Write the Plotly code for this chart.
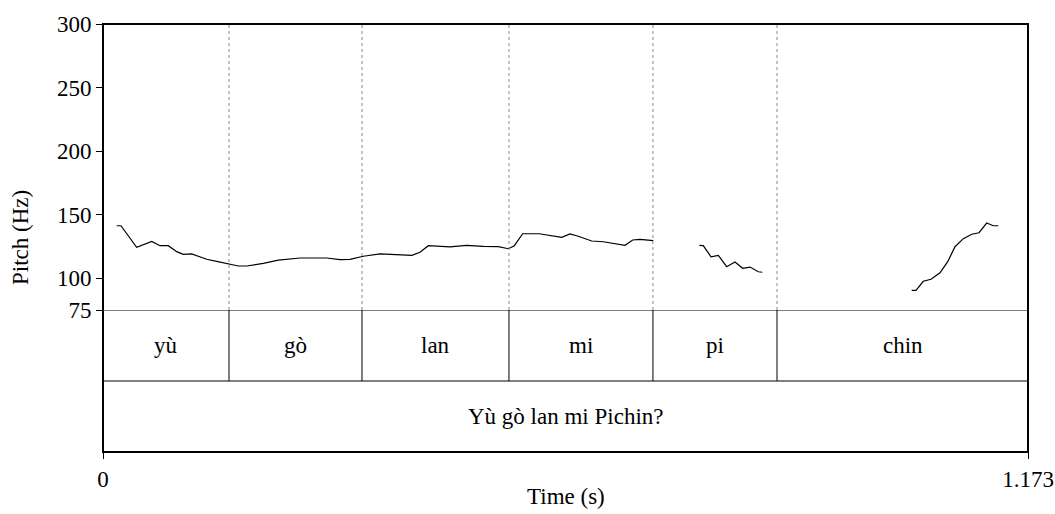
import plotly.graph_objects as go

# ---- data ----
seg1_t = [0.0174, 0.0228, 0.0427, 0.0618, 0.0723, 0.0828, 0.0935, 0.1018, 0.1125, 0.1315,
          0.1442, 0.1589, 0.1716, 0.1822, 0.2033, 0.2223, 0.2498, 0.2837, 0.3005, 0.3132,
          0.3301, 0.3513, 0.3724, 0.3915, 0.4020, 0.4125, 0.4400, 0.4612, 0.4823, 0.5013,
          0.5140, 0.5216, 0.5322, 0.5533, 0.5817, 0.5922, 0.6027, 0.6197, 0.6344, 0.6620,
          0.6717, 0.6810, 0.6978]
seg1_f = [141.3, 141.3, 124.3, 129.0, 125.6, 125.6, 120.9, 118.8, 119.1, 114.9,
          113.3, 111.2, 109.6, 109.6, 111.7, 114.3, 115.9, 115.9, 114.6, 114.9,
          117.3, 119.1, 118.8, 118.0, 120.4, 125.6, 124.6, 125.9, 125.1, 124.8,
          123.2, 125.6, 135.0, 135.0, 132.2, 134.8, 133.0, 129.3, 128.7, 125.9,
          130.1, 130.6, 129.5]
seg2_t = [0.7562, 0.7612, 0.7710, 0.7803, 0.7909, 0.8014, 0.8112, 0.8205, 0.8310, 0.8361]
seg2_f = [125.9, 125.6, 116.9, 118.0, 109.1, 112.8, 107.8, 108.8, 105.1, 104.7]
seg3_t = [1.0255, 1.0310, 1.0402, 1.0500, 1.0614, 1.0712, 1.0804, 1.0910, 1.1016, 1.1109,
          1.1206, 1.1290, 1.1353]
seg3_f = [90.5, 90.5, 97.6, 99.2, 104.3, 113.0, 124.8, 131.1, 134.6, 135.8,
          143.4, 141.3, 141.3]

boundaries = [0.0, 0.1598, 0.3284, 0.5148, 0.6974, 0.8547, 1.173]
syllables = ["yù", "gò", "lan", "mi", "pi", "chin"]
sentence = "Yù gò lan mi Pichin?"
pitch_ticks = [75, 100, 150, 200, 250, 300]
t_max = 1.173

FONT = "Liberation Serif"
FS = 23

t_all = seg1_t + [None] + seg2_t + [None] + seg3_t
f_all = seg1_f + [None] + seg2_f + [None] + seg3_f

fig = go.Figure()
fig.add_trace(go.Scatter(x=t_all, y=f_all, mode="lines", connectgaps=False,
                         line=dict(color="black", width=1.2), yaxis="y",
                         showlegend=False, hoverinfo="skip"))

pitch_dom0 = 142 / 428
shapes = []
# dotted boundaries in pitch area
for b in boundaries[1:-1]:
    shapes.append(dict(type="line", xref="x", yref="y", x0=b, x1=b, y0=75, y1=300,
                       line=dict(color="#888888", width=1, dash="dot")))
    shapes.append(dict(type="line", xref="x", yref="y2", x0=b, x1=b, y0=1, y1=2,
                       line=dict(color="black", width=1)))
# tier lines
for yv in [1, 2]:
    shapes.append(dict(type="line", xref="paper", yref="y2", x0=0, x1=1, y0=yv, y1=yv,
                       line=dict(color="black", width=1)))
# frame
shapes.append(dict(type="rect", xref="paper", yref="paper", x0=0, x1=1, y0=0, y1=1,
                   line=dict(color="black", width=2)))

annotations = []
for i, s in enumerate(syllables):
    annotations.append(dict(x=(boundaries[i] + boundaries[i + 1]) / 2, y=1.5, xref="x", yref="y2",
                            text=s, showarrow=False, font=dict(family=FONT, size=FS, color="black")))
annotations.append(dict(x=t_max / 2, y=0.5, xref="x", yref="y2", text=sentence, showarrow=False,
                        font=dict(family=FONT, size=FS, color="black")))
annotations.append(dict(x=0.5, y=0, xref="paper", yref="paper", yshift=-44, text="Time (s)",
                        showarrow=False, yanchor="middle",
                        font=dict(family=FONT, size=FS, color="black")))
annotations.append(dict(x=0, y=0.5, xref="paper", yref="paper", xshift=-83, text="Pitch (Hz)",
                        showarrow=False, textangle=-90, xanchor="center",
                        font=dict(family=FONT, size=FS, color="black")))

fig.update_layout(
    width=1055, height=514,
    margin=dict(l=103, r=27, t=24, b=62, autoexpand=False),
    paper_bgcolor="white", plot_bgcolor="white",
    font=dict(family=FONT, size=FS, color="black"),
    xaxis=dict(range=[0, t_max], tickvals=[0, t_max], ticktext=["0", "1.173"],
               ticks="outside", ticklen=6, tickwidth=1, tickcolor="black",
               showgrid=False, zeroline=False, showline=False, anchor="y2",
               automargin=False, tickfont=dict(family=FONT, size=FS)),
    yaxis=dict(domain=[pitch_dom0, 1], range=[75, 300], tickvals=pitch_ticks,
               ticks="outside", ticklen=6, tickwidth=1, tickcolor="black",
               showgrid=False, zeroline=False, showline=False, automargin=False,
               tickfont=dict(family=FONT, size=FS)),
    yaxis2=dict(domain=[0, pitch_dom0], range=[0, 2], showticklabels=False, ticks="",
                showgrid=False, zeroline=False, showline=False, automargin=False),
    shapes=shapes, annotations=annotations,
)
fig.write_html("out.html")
